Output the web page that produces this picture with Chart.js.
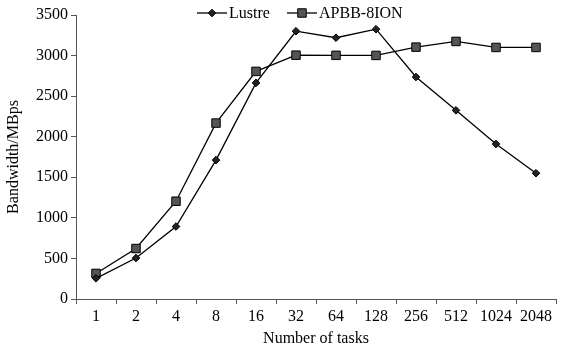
<!DOCTYPE html>
<html>
<head>
<meta charset="utf-8">
<script src="https://cdn.jsdelivr.net/npm/chart.js@4"></script>
<style>
  html, body { margin: 0; padding: 0; background: #fff; }
  #wrap { width: 563px; height: 352px; }
</style>
</head>
<body>
<div id="wrap"><canvas id="myChart" width="563" height="352"></canvas></div>
<script>
// data
const tasks = ['1', '2', '4', '8', '16', '32', '64', '128', '256', '512', '1024', '2048'];
const lustre = [255, 505, 893, 1712, 2663, 3300, 3220, 3325, 2736, 2325, 1910, 1550];
const apbb = [315, 622, 1205, 2168, 2805, 3005, 3003, 3002, 3104, 3174, 3100, 3100];
const yTicks = [0, 500, 1000, 1500, 2000, 2500, 3000, 3500];

const serif = '"Liberation Serif", "Times New Roman", serif';

// legend drawn inside the plot, line + marker like the original
const lineLegend = {
    id: 'lineLegend',
    afterDraw(chart) {
        const ctx = chart.ctx;
        const y = 13;
        const items = [
            { x: 197, label: 'Lustre', ds: chart.data.datasets[0] },
            { x: 287, label: 'APBB-8ION', ds: chart.data.datasets[1] }
        ];
        ctx.save();
        ctx.font = '16px ' + serif;
        ctx.textBaseline = 'middle';
        items.forEach(it => {
            ctx.strokeStyle = '#000';
            ctx.lineWidth = 1.3;
            ctx.beginPath();
            ctx.moveTo(it.x, y);
            ctx.lineTo(it.x + 30, y);
            ctx.stroke();
            ctx.fillStyle = it.ds.pointBackgroundColor;
            ctx.lineWidth = 1;
            Chart.helpers.drawPoint(ctx, {
                pointStyle: it.ds.pointStyle,
                radius: it.ds.pointRadius,
                borderWidth: 1
            }, it.x + 15, y);
            ctx.fillStyle = '#000';
            ctx.fillText(it.label, it.x + 32, y + 1);
        });
        ctx.restore();
    }
};

const ctx = document.getElementById('myChart').getContext('2d');
new Chart(ctx, {
    type: 'line',
    data: {
        labels: tasks,
        datasets: [{
            label: 'Lustre',
            data: lustre,
            borderColor: '#000',
            borderWidth: 1.3,
            pointStyle: 'rectRot',
            pointRadius: 3.8,
            pointBackgroundColor: '#222',
            pointBorderColor: '#000',
            pointBorderWidth: 1,
            tension: 0
        }, {
            label: 'APBB-8ION',
            data: apbb,
            borderColor: '#000',
            borderWidth: 1.3,
            pointStyle: 'rect',
            pointRadius: 6,
            pointBackgroundColor: '#555',
            pointBorderColor: '#000',
            pointBorderWidth: 1,
            tension: 0
        }]
    },
    options: {
        responsive: false,
        animation: false,
        layout: { padding: { left: 0, right: 3, top: 15, bottom: 0 } },
        plugins: {
            legend: { display: false },
            tooltip: { enabled: false }
        },
        scales: {
            x: {
                offset: true,
                grid: { display: true, offset: true, drawOnChartArea: false, tickLength: 5, color: '#555' },
                border: { display: true, color: '#555', width: 1 },
                ticks: { color: '#000', font: { family: serif, size: 16 }, padding: 3, maxRotation: 0, autoSkip: false },
                title: { display: true, text: 'Number of tasks', color: '#000', font: { family: serif, size: 16 }, padding: { top: 0 } },
                afterFit(scale) { scale.height = 53; }
            },
            y: {
                min: 0,
                max: 3500,
                afterBuildTicks(scale) { scale.ticks = yTicks.map(v => ({ value: v })); },
                grid: { display: true, drawOnChartArea: false, tickLength: 5, color: '#555' },
                border: { display: true, color: '#555', width: 1 },
                ticks: { color: '#000', font: { family: serif, size: 16 }, padding: 3, callback: v => String(v) },
                title: { display: true, text: 'Bandwidth/MBps', color: '#000', font: { family: serif, size: 16 }, padding: { bottom: 2 } },
                afterFit(scale) { scale.width = 76; }
            }
        }
    },
    plugins: [lineLegend]
});
</script>
</body>
</html>
